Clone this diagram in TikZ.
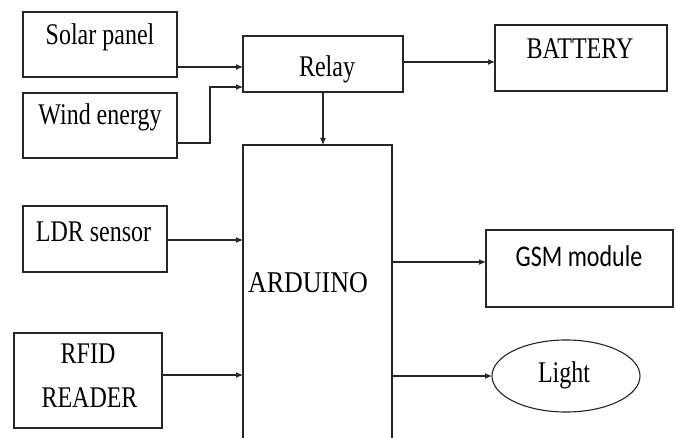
\documentclass[tikz,border=0pt]{standalone}
\usepackage{fontspec}
\setmainfont{Liberation Serif}
\newfontfamily\gsmfont{Carlito}
\usepackage{graphicx}
\usetikzlibrary{arrows.meta,shapes.geometric}
\newcommand{\vsc}[1]{\scalebox{1}[1.25]{#1}}
\begin{document}
\begin{tikzpicture}[x=1pt,y=-1pt,
  blk/.style={draw=black!85, line width=1.1pt, rectangle, anchor=north west, inner sep=0pt, outer sep=0pt},
  oval/.style={draw=black!85, line width=1.1pt, ellipse, inner sep=0pt, outer sep=0pt},
  txt/.style={inner sep=0pt, anchor=base, text=black, font=\fontsize{24}{28}\selectfont},
  arr/.style={draw=black!85, line width=1.1pt, -{Latex[length=7pt,width=6pt]}}]
\clip (0,0) rectangle (676,438);
\fill[white] (0,0) rectangle (676,438);
% boxes
\node[blk, minimum width=154pt, minimum height=65pt] (solar) at (23,12) {};
\node[blk, minimum width=154pt, minimum height=65pt] (wind) at (23,93) {};
\node[blk, minimum width=160pt, minimum height=56pt] (relay) at (243,36) {};
\node[blk, minimum width=172pt, minimum height=66pt] (battery) at (495,25) {};
\node[blk, minimum width=149pt, minimum height=310pt] (arduino) at (243,145) {};
\node[blk, minimum width=144pt, minimum height=66pt] (ldr) at (23,206) {};
\node[blk, minimum width=148pt, minimum height=95pt] (rfid) at (14,333) {};
\node[blk, minimum width=187pt, minimum height=77pt] (gsm) at (486,230) {};
\node[oval, minimum width=148pt, minimum height=72pt] (light) at (566,376) {};
% texts
\node[txt] (tsolar) at (100,45) {\vsc{Solar panel}};
\node[txt] (twind) at (100,125) {\vsc{Wind energy}};
\node[txt] (trelay) at (327,77) {\vsc{Relay}};
\node[txt] (tbattery) at (580,59) {\vsc{BATTERY}};
\node[txt] (tldr) at (93.5,241) {\vsc{LDR sensor}};
\node[txt] (trfid) at (88,363) {\vsc{RFID}};
\node[txt] (treader) at (89.5,407) {\vsc{READER}};
\node[txt, font=\fontsize{26}{30}\selectfont] (tarduino) at (308,292) {\scalebox{1}[1.16]{ARDUINO}};
\node[txt, font=\gsmfont\fontsize{24}{28}\selectfont] (tgsm) at (579,266) {\vsc{GSM module}};
\node[txt] (tlight) at (564,382) {\vsc{Light}};
% connectors
\draw[arr] (solar.east |- 0,67) -- (relay.west |- 0,67);
\draw[arr] (wind.east |- 0,143) -- (210,143) |- (relay.west |- 0,87);
\draw[arr] (relay.east |- 0,62) -- (battery.west |- 0,62);
\draw[arr] (relay.south) -- (arduino.north -| relay.south);
\draw[arr] (ldr.east |- 0,240) -- (arduino.west |- 0,240);
\draw[arr] (rfid.east |- 0,375) -- (arduino.west |- 0,375);
\draw[arr] (arduino.east |- 0,262) -- (gsm.west |- 0,262);
\draw[arr] (arduino.east |- light.west) -- (light.west);
\end{tikzpicture}
\end{document}
